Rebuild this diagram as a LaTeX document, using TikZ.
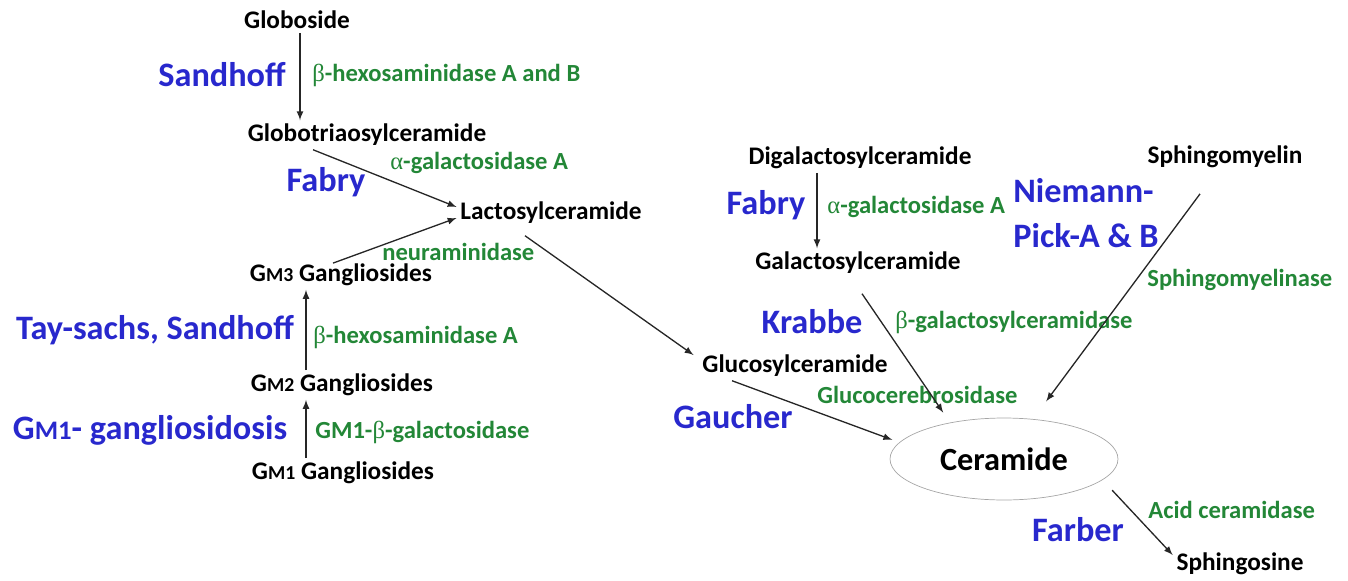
\documentclass[tikz,border=0pt]{standalone}
\usepackage{fontspec}
\setmainfont{Carlito}
\newfontfamily\greekfont{Liberation Serif}
\usepackage{graphicx}
\usepackage{xcolor}
\usetikzlibrary{shapes.geometric, arrows}
\usetikzlibrary{positioning,calc}
\definecolor{diseaseblue}{RGB}{40,40,205}
\definecolor{enzymegreen}{RGB}{35,135,55}
\tikzstyle{substrate} = [font=\bfseries\fontsize{14.4}{16}\selectfont, inner sep=2pt]
\tikzstyle{disease} = [text=diseaseblue, font=\bfseries\fontsize{19.5}{26}\selectfont, inner sep=0pt]
\tikzstyle{enzyme} = [text=enzymegreen, font=\bfseries\fontsize{14}{16}\selectfont, inner sep=0pt, anchor=west]
\tikzstyle{arrow} = [line width=0.75pt,draw=black!85,->,>=latex]
\newcommand{\gm}[1]{G\scalebox{0.78}{M#1}}
\newcommand{\grk}[1]{{\greekfont\mdseries #1}}

\begin{document}
\begin{tikzpicture}[x=0.02cm,y=-0.02cm]
	\useasboundingbox (0,0) rectangle (1348,581);
	\coordinate (globoside) at (297,20);
	\coordinate (globotria) at (367,135);
	\coordinate (lacto) at (551,213);
	\coordinate (gmthree) at (341,275);
	\coordinate (gmtwo) at (342,385);
	\coordinate (gmone) at (343,473);
	\coordinate (digal) at (860,158);
	\coordinate (galacto) at (858,263);
	\coordinate (sphingomyelin) at (1225,157);
	\coordinate (gluco) at (795,366);
	\coordinate (ceramide) at (1004,459);
	\coordinate (sphingosine) at (1240,564);
	% Substrates
	\node[substrate, name=globoside] at (globoside) {Globoside};
	\node[substrate, name=globotria] at (globotria) {Globotriaosylceramide};
	\node[substrate, name=lacto] at (lacto) {Lactosylceramide};
	\node[substrate, name=gmthree] at (gmthree) {\gm{3} Gangliosides};
	\node[substrate, name=gmtwo] at (gmtwo) {\gm{2} Gangliosides};
	\node[substrate, name=gmone] at (gmone) {\gm{1} Gangliosides};
	\node[substrate, name=digal] at (digal) {Digalactosylceramide};
	\node[substrate, name=galacto] at (galacto) {Galactosylceramide};
	\node[substrate, name=sphingomyelin] at (sphingomyelin) {Sphingomyelin};
	\node[substrate, name=gluco] at (gluco) {Glucosylceramide};
	\node[substrate, name=sphingosine] at (sphingosine) {Sphingosine};
	\node[ellipse, draw=gray!70, minimum width=4.56cm, minimum height=1.64cm, font=\bfseries\fontsize{18.4}{20}\selectfont, name=ceramide] at (ceramide) {Ceramide};
	% Diseases
	\begin{scope}[every node/.style={disease}]
	\node[name=sandhoff] at (222,75) {Sandhoff};
	\node[name=fabryl] at (326,182) {Fabry};
	\node[name=taysachs] at (155,330) {Tay-sachs, Sandhoff};
	\node[name=gmonegang] at (150,430) {\gm{1}- gangliosidosis};
	\node[name=fabryr] at (766,205) {Fabry};
	\node[name=niemann, anchor=west, align=left] at (1013,213) {Niemann-\\Pick-A \& B};
	\node[name=krabbe] at (812,322) {Krabbe};
	\node[name=gaucher] at (733,417) {Gaucher};
	\node[name=farber] at (1078,530) {Farber};
	\end{scope}
	% Enzymes
	\begin{scope}[every node/.style={enzyme}]
	\node[name=hexab] at (312,75) {\grk{β}-hexosaminidase A and B};
	\node[name=galal] at (390,163) {\grk{α}-galactosidase A};
	\node[name=neura] at (382,252) {neuraminidase};
	\node[name=hexa] at (313,337) {\grk{β}-hexosaminidase A};
	\node[name=gmonebeta] at (315,432) {GM1-\grk{β}-galactosidase};
	\node[name=galar] at (827,207) {\grk{α}-galactosidase A};
	\node[name=sphingase] at (1147,280) {Sphingomyelinase};
	\node[name=betagalcer] at (895,322) {\grk{β}-galactosylceramidase};
	\node[name=glucocer] at (817,395) {Glucocerebrosidase};
	\node[name=acidcer] at (1148,510) {Acid ceramidase};
	\end{scope}
	% Reactions
	\draw [arrow] ([xshift=0.06cm]globoside.south) -- ([xshift=0.06cm]globoside.south |- globotria.north);
	\draw [arrow] ([xshift=-1.08cm]globotria.south) -- ([yshift=0.12cm]lacto.west);
	\draw [arrow] ([xshift=-0.16cm,yshift=-0.06cm]gmthree.north) -- ([yshift=-0.1cm]lacto.west);
	\draw [arrow] ([xshift=-0.52cm,yshift=-0.16cm]lacto.south) -- ([xshift=-0.1cm,yshift=0.22cm]gluco.west);
	\draw [arrow] ([xshift=-0.72cm]gmtwo.north) -- ([xshift=-0.72cm]gmtwo.north |- gmthree.south);
	\draw [arrow] ([xshift=-0.74cm]gmone.north) -- ([xshift=-0.74cm]gmone.north |- gmtwo.south);
	\draw [arrow] ([xshift=-0.86cm]digal.south) -- ([xshift=-0.86cm]digal.south |- galacto.north);
	\draw [arrow, shorten >=0.24cm] ([xshift=0.08cm,yshift=-0.32cm]galacto.south) -- (ceramide.146);
	\draw [arrow, shorten >=0.44cm] ([xshift=-0.5cm,yshift=-0.44cm]sphingomyelin.south) -- (ceramide.54);
	\draw [arrow, shorten >=0.15cm] ([xshift=-1.26cm]gluco.south) -- (ceramide.171);
	\draw [arrow, shorten <=0.28cm] (ceramide.-12) -- ([yshift=0.18cm]sphingosine.west);
\end{tikzpicture}
\end{document}
